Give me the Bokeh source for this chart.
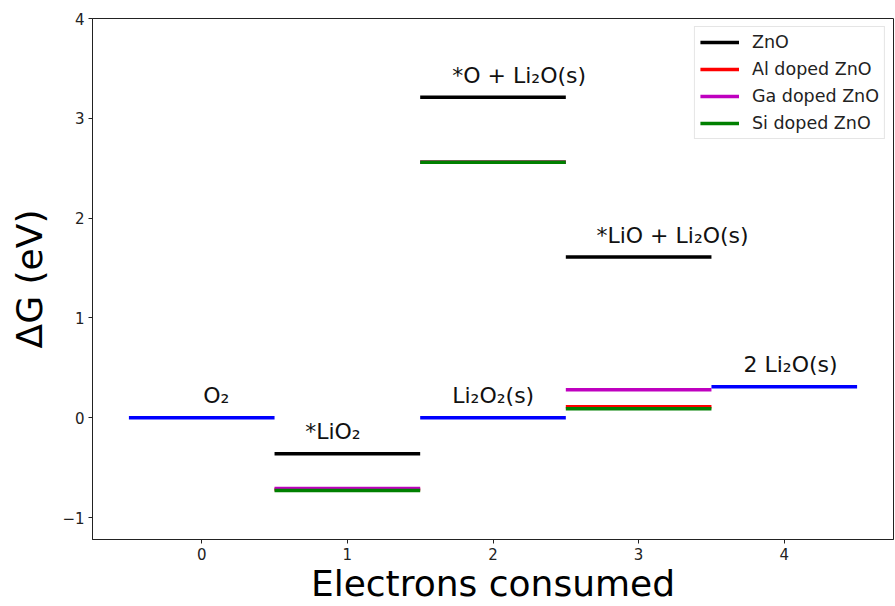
from bokeh.plotting import figure
from bokeh.models import (ColumnDataSource, Range1d, FixedTicker, Legend, LegendItem)
from bokeh.core.properties import value
from bokeh.embed import file_html
from bokeh.resources import INLINE

# ---- data -------------------------------------------------------------
steps = [0, 1, 2, 3, 4]
common = [0.0, None, 0.0, None, 0.31]        # levels shared by all surfaces (blue)
zno = [None, -0.36, 3.21, 1.61, None]
al_zno = [None, -0.72, 2.56, 0.11, None]
ga_zno = [None, -0.71, 2.56, 0.28, None]
si_zno = [None, -0.73, 2.56, 0.09, None]

state_labels = ["O\u2082", "*LiO\u2082", "Li\u2082O\u2082(s)", "*O + Li\u2082O(s)",
                "*LiO + Li\u2082O(s)", "2 Li\u2082O(s)"]
label_step = [0, 1, 2, 2, 3, 4]
label_level = [0.0, -0.36, 0.0, 3.21, 1.61, 0.31]
label_dx = [0.01, -0.29, -0.28, -0.28, -0.29, -0.28]

xticks = [0, 1, 2, 3, 4]
yticks = [-1, 0, 1, 2, 3, 4]

FONT = "DejaVu Sans"

p = figure(width=895, height=606, output_backend="svg", toolbar_location=None,
           x_range=Range1d(-0.75, 4.75), y_range=Range1d(-1.22, 4.0),
           min_border_left=92, min_border_right=2, min_border_top=18,
           min_border_bottom=66)
p.background_fill_color = "white"
p.border_fill_color = "white"
p.outline_line_color = "#222222"
p.outline_line_width = 1
p.xgrid.visible = False
p.ygrid.visible = False


def seg_source(levels):
    xs0, xs1, ys = [], [], []
    for s, v in zip(steps, levels):
        if v is None:
            continue
        xs0.append(s - 0.5)
        xs1.append(s + 0.5)
        ys.append(v)
    return ColumnDataSource(dict(x0=xs0, x1=xs1, y=ys))


LW = 3.5
p.segment(x0="x0", y0="y", x1="x1", y1="y", source=seg_source(common),
          line_color="#0000ff", line_width=LW)
r_zno = p.segment(x0="x0", y0="y", x1="x1", y1="y", source=seg_source(zno),
                  line_color="#000000", line_width=LW)
r_al = p.segment(x0="x0", y0="y", x1="x1", y1="y", source=seg_source(al_zno),
                 line_color="#ff0000", line_width=LW)
r_ga = p.segment(x0="x0", y0="y", x1="x1", y1="y", source=seg_source(ga_zno),
                 line_color="#bf00bf", line_width=LW)
r_si = p.segment(x0="x0", y0="y", x1="x1", y1="y", source=seg_source(si_zno),
                 line_color="#008000", line_width=LW)

lab_src = ColumnDataSource(dict(
    x=[s + d for s, d in zip(label_step, label_dx)],
    y=[v + 0.22 for v in label_level],
    t=state_labels))
p.text(x="x", y="y", text="t", source=lab_src, text_font=value(FONT),
       text_font_size="22px", text_color="#111111", text_align="left",
       text_baseline="alphabetic")

# axes
for ax in (p.xaxis[0], p.yaxis[0]):
    ax.major_tick_in = 0
    ax.major_tick_out = 4
    ax.minor_tick_in = 0
    ax.minor_tick_out = 0
    ax.major_label_text_font = FONT
    ax.major_label_text_font_size = "15px"
    ax.major_label_text_color = "#222222"
    ax.axis_line_color = "#222222"
    ax.major_tick_line_color = "#222222"
    ax.axis_label_text_font = FONT
    ax.axis_label_text_font_size = "36px"
    ax.axis_label_text_font_style = "normal"
    ax.axis_label_text_color = "#000000"

p.xaxis.ticker = FixedTicker(ticks=xticks)
p.yaxis.ticker = FixedTicker(ticks=yticks)
p.yaxis.major_label_overrides = {t: ("\u2212" + str(-t) if t < 0 else str(t)) for t in yticks}
p.xaxis.major_label_standoff = 4
p.yaxis.major_label_standoff = 4

p.yaxis.axis_label = "\u0394G (eV)"
p.yaxis.axis_label_standoff = 9
p.xaxis.axis_label = "Electrons consumed"
p.xaxis.axis_label_standoff = 0

legend = Legend(items=[
    LegendItem(label="ZnO", renderers=[r_zno]),
    LegendItem(label="Al doped ZnO", renderers=[r_al]),
    LegendItem(label="Ga doped ZnO", renderers=[r_ga]),
    LegendItem(label="Si doped ZnO", renderers=[r_si]),
], location="top_right")
legend.margin = 8
legend.padding = 5
legend.spacing = 7
legend.glyph_width = 39
legend.glyph_height = 20
legend.label_height = 20
legend.label_standoff = 13
legend.label_text_font = FONT
legend.label_text_font_size = "17.5px"
legend.label_text_color = "#222222"
legend.border_line_color = "#cccccc"
legend.border_line_width = 1
legend.background_fill_color = "white"
legend.background_fill_alpha = 0.8
p.add_layout(legend)

open("out.html", "w").write(file_html(p, INLINE))
